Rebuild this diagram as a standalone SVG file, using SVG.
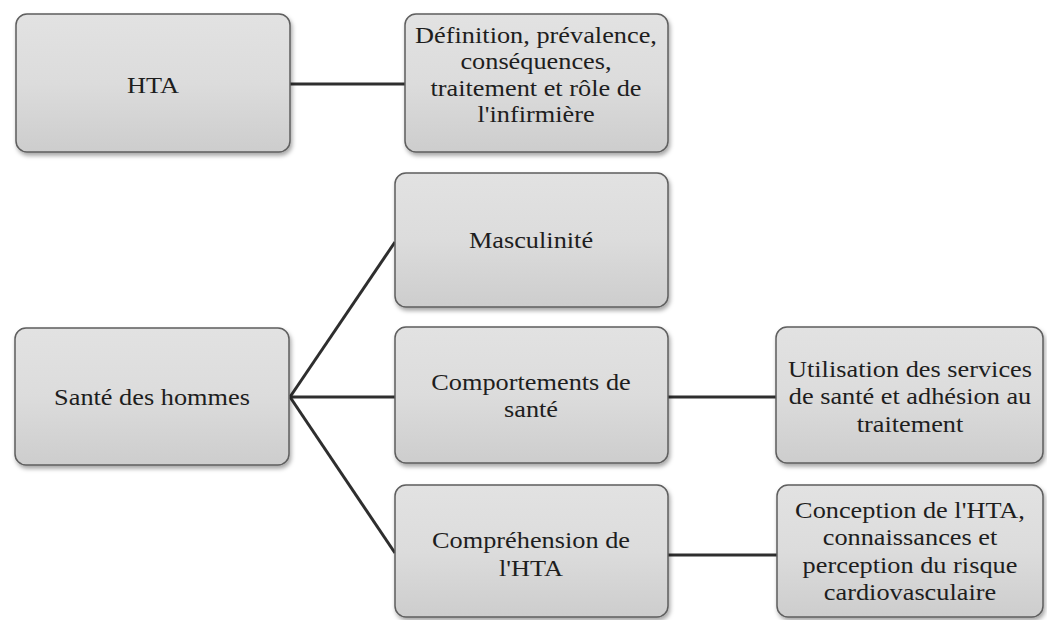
<svg xmlns="http://www.w3.org/2000/svg" width="1047" height="620" viewBox="0 0 1047 620">
  <defs>
    <linearGradient id="boxFill" x1="0" y1="0" x2="0" y2="1">
      <stop offset="0" stop-color="#e2e2e2"/>
      <stop offset="0.5" stop-color="#dcdcdc"/>
      <stop offset="1" stop-color="#cdcdcd"/>
    </linearGradient>
    <filter id="shadow" x="-10%" y="-10%" width="125%" height="130%">
      <feDropShadow dx="1.5" dy="3" stdDeviation="2" flood-color="#000" flood-opacity="0.35"/>
    </filter>
  </defs>
  <style>
    .box { fill: url(#boxFill); stroke: #5e5e5e; stroke-width: 1.5; filter: url(#shadow); }
    .label { font-family: "Liberation Serif", "Times New Roman", serif; font-size: 23.5px; fill: #1e1e1e; text-anchor: middle; }
    .link { stroke: #2e2e2e; stroke-width: 3; fill: none; stroke-linecap: butt; }
  </style>
  <rect width="1047" height="620" fill="#ffffff"/>

  <!-- connectors -->
  <g id="connectors">
    <line class="link" x1="290" y1="84" x2="405" y2="84"/>
    <line class="link" x1="290" y1="397" x2="395" y2="242"/>
    <line class="link" x1="290" y1="397" x2="395" y2="397"/>
    <line class="link" x1="290" y1="397" x2="395" y2="553"/>
    <line class="link" x1="668" y1="397" x2="776" y2="397"/>
    <line class="link" x1="668" y1="555" x2="777" y2="555"/>
  </g>

  <!-- labels are set slightly wide: each label group is centred on its box and stretched horizontally -->
  <g id="node-hta">
    <rect class="box" x="16" y="14" width="274" height="138" rx="11"/>
    <g transform="translate(153,0) scale(1.12,1)">
      <text class="label" x="0" y="93">HTA</text>
    </g>
  </g>

  <g id="node-definition">
    <rect class="box" x="405" y="14" width="263" height="138" rx="11"/>
    <g transform="translate(536,0) scale(1.12,1)">
      <text class="label" x="0" y="43">Définition, prévalence,</text>
      <text class="label" x="0" y="69.5">conséquences,</text>
      <text class="label" x="0" y="96">traitement et rôle de</text>
      <text class="label" x="0" y="122.5">l'infirmière</text>
    </g>
  </g>

  <g id="node-masculinite">
    <rect class="box" x="395" y="173" width="273" height="134" rx="11"/>
    <g transform="translate(531,0) scale(1.12,1)">
      <text class="label" x="0" y="248">Masculinité</text>
    </g>
  </g>

  <g id="node-sante-hommes">
    <rect class="box" x="15" y="328" width="274" height="137" rx="11"/>
    <g transform="translate(152,0) scale(1.12,1)">
      <text class="label" x="0" y="405">Santé des hommes</text>
    </g>
  </g>

  <g id="node-comportements">
    <rect class="box" x="395" y="327" width="273" height="136" rx="11"/>
    <g transform="translate(531,0) scale(1.12,1)">
      <text class="label" x="0" y="390">Comportements de</text>
      <text class="label" x="0" y="417">santé</text>
    </g>
  </g>

  <g id="node-utilisation">
    <rect class="box" x="776" y="327" width="267" height="136" rx="11"/>
    <g transform="translate(910,0) scale(1.12,1)">
      <text class="label" x="0" y="377">Utilisation des services</text>
      <text class="label" x="0" y="404.5">de santé et adhésion au</text>
      <text class="label" x="0" y="432">traitement</text>
    </g>
  </g>

  <g id="node-comprehension">
    <rect class="box" x="395" y="485" width="273" height="132" rx="11"/>
    <g transform="translate(531,0) scale(1.12,1)">
      <text class="label" x="0" y="548">Compréhension de</text>
      <text class="label" x="0" y="576">l'HTA</text>
    </g>
  </g>

  <g id="node-conception">
    <rect class="box" x="777" y="485" width="266" height="132" rx="11"/>
    <g transform="translate(910,0) scale(1.12,1)">
      <text class="label" x="0" y="518">Conception de l'HTA,</text>
      <text class="label" x="0" y="545">connaissances et</text>
      <text class="label" x="0" y="573">perception du risque</text>
      <text class="label" x="0" y="600">cardiovasculaire</text>
    </g>
  </g>
</svg>
